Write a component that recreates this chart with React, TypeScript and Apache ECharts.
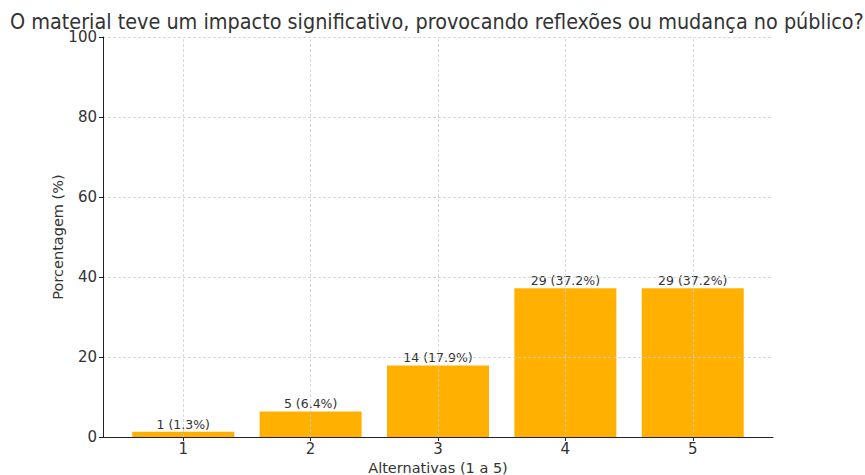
import React, { useEffect, useRef } from "react";
import * as echarts from "echarts";

const categories = [1, 2, 3, 4, 5];
const counts = [1, 5, 14, 29, 29];
const percents = [1.3, 6.4, 17.9, 37.2, 37.2];
const yTicks = [0, 20, 40, 60, 80, 100];

const TITLE = "O material teve um impacto significativo, provocando reflexões ou mudança no público?";
const FONT = "DejaVu Sans";

export default function App() {
  const ref = useRef<HTMLDivElement>(null);
  useEffect(() => {
    if (!ref.current) return;
    const chart = echarts.init(ref.current, undefined, { renderer: "svg" });
    const gridStyle = { type: [3, 2] as any, color: "#cfcfcf", width: 0.8 };
    chart.setOption({
      animation: false,
      textStyle: { fontFamily: FONT },
      title: {
        text: TITLE,
        left: 10,
        top: 11,
        padding: 0,
        textStyle: { fontFamily: "DejaVu Sans Condensed", fontSize: 21.4, fontWeight: "normal", color: "#333" },
      },
      grid: { left: 103, right: 92, top: 37, bottom: 38, containLabel: false, outerBoundsMode: "none" },
      xAxis: {
        type: "value",
        min: 0.37,
        max: 5.63,
        z: 3,
        name: "Alternativas (1 a 5)",
        nameLocation: "middle",
        nameGap: 23,
        nameMoveOverlap: false,
        nameTextStyle: { fontFamily: FONT, fontSize: 14.5, color: "#333" },
        axisLine: { show: true, onZero: false, lineStyle: { color: "#222", width: 1 } },
        axisTick: { show: true, customValues: categories, length: 4, lineStyle: { color: "#222" } },
        axisLabel: { customValues: categories, fontSize: 15, color: "#333", margin: 4 },
        splitLine: { show: false },
      },
      yAxis: {
        type: "value",
        min: 0,
        max: 100,
        interval: 20,
        z: 3,
        name: "Porcentagem (%)",
        nameLocation: "middle",
        nameGap: 38,
        nameMoveOverlap: false,
        nameTextStyle: { fontFamily: FONT, fontSize: 14.5, color: "#333" },
        axisLine: { show: true, lineStyle: { color: "#222", width: 1 } },
        axisTick: { show: true, length: 4, lineStyle: { color: "#222" } },
        axisLabel: { fontSize: 15, color: "#333", margin: 6, customValues: yTicks },
        splitLine: { show: true, lineStyle: gridStyle },
      },
      series: [
        {
          type: "bar",
          barWidth: 102,
          z: 2,
          itemStyle: { color: "#FFB000" },
          data: categories.map((c, i) => [c, percents[i]]),
          label: {
            show: true,
            position: "top",
            distance: 1,
            fontSize: 12.5,
            color: "#333",
            fontFamily: FONT,
            formatter: (p: any) => `${counts[p.dataIndex]} (${percents[p.dataIndex].toFixed(1)}%)`,
          },
          markLine: {
            silent: true,
            symbol: "none",
            z: 4,
            label: { show: false },
            lineStyle: gridStyle,
            data: categories.map((c) => ({ xAxis: c })),
          },
        },
      ],
    });
    return () => chart.dispose();
  }, []);
  return <div ref={ref} style={{ width: 865, height: 475, position: "absolute", left: 0, top: 0 }} />;
}
